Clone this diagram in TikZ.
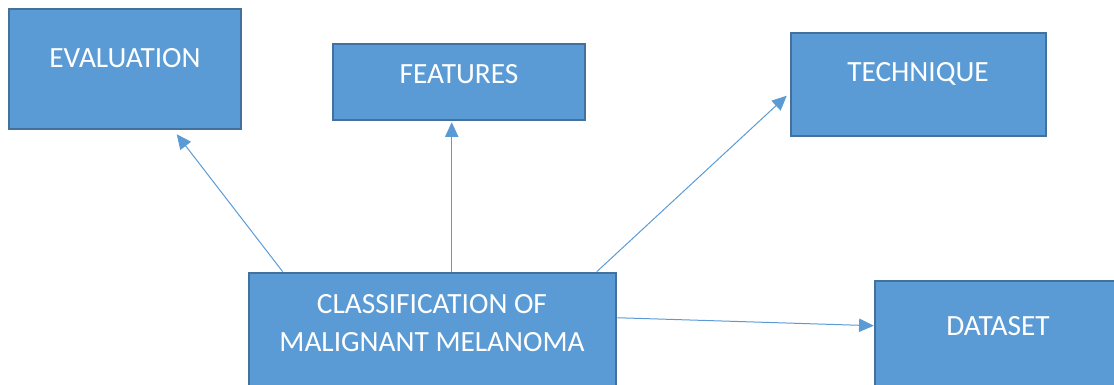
\documentclass[tikz,border=0pt]{standalone}
\usepackage{fontspec}
\setmainfont{Carlito}
\usetikzlibrary{arrows.meta,calc}
\definecolor{boxfill}{HTML}{5B9BD5}
\definecolor{boxline}{HTML}{41719C}
\tikzstyle{block} = [rectangle, fill=boxfill, draw=boxline, line width=1.9pt, inner sep=0pt]
\tikzstyle{caption} = [text=white, font=\fontsize{22}{29}\selectfont, align=center, inner sep=0pt]
\tikzstyle{link} = [draw=boxfill, line width=0.75pt, -{Triangle[length=11pt,width=10pt]}]

\begin{document}
\begin{tikzpicture}[x=0.75pt,y=-0.75pt]
  \useasboundingbox (0,0) rectangle (1114,385);
  \clip (0,0) rectangle (1114,385);
  % boxes
  \node[block, minimum width=174pt, minimum height=90pt] (eval) at (125,69) {};
  \node[block, minimum width=189pt, minimum height=57pt] (feat) at (459,82) {};
  \node[block, minimum width=191.25pt, minimum height=77.25pt] (tech) at (918.5,84.5) {};
  \node[block, minimum width=275.25pt, minimum height=95.25pt] (class) at (432.5,336.5) {};
  \node[block, minimum width=184.5pt, minimum height=88.5pt] (data) at (998,340) {};
  % texts
  \node[caption] (evaltext) at (125,58) {EVALUATION};
  \node[caption] (feattext) at (459,74) {FEATURES};
  \node[caption] (techtext) at (918,74) {TECHNIQUE};
  \node[caption] (classtext) at (432,323) {CLASSIFICATION OF\\MALIGNANT MELANOMA};
  \node[caption] (datatext) at (998,326) {DATASET};
  % connectors
  \draw[link] ($(class.north west)+(35,0)$) -- ($(eval.south west)+(169,4)$);
  \draw[link] ($(class.north west)+(204,0)$) -- ($(feat.south west)+(120,1)$);
  \draw[link] ($(class.north west)+(349,0)$) -- ($(tech.north west)+(-3,64)$);
  \draw[link] ($(class.north east)+(0,46)$) -- ($(data.north west)+(0,46)$);
\end{tikzpicture}
\end{document}
